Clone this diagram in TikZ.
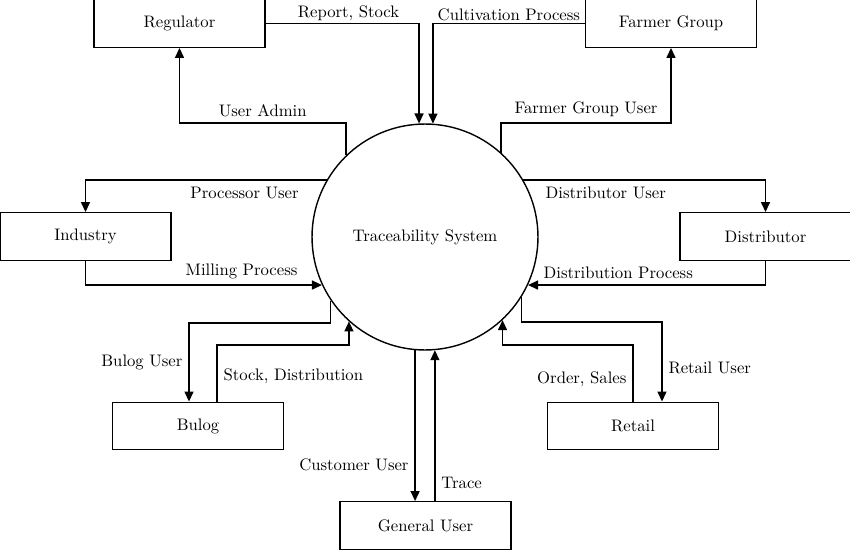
\documentclass[tikz,border=0pt]{standalone}
\usepackage{tikz}
\usetikzlibrary{positioning,arrows.meta,calc}

\begin{document}
\begin{tikzpicture}[x=0.02cm, y=0.02cm, font=\fontsize{9.5}{11}\selectfont,
        box/.style={draw, thick, rectangle, minimum width=3.42cm, minimum height=0.95cm, fill=white},
        flow/.style={thick, -{Triangle[length=2mm, width=1.8mm]}}]
        \useasboundingbox (0,0) rectangle (850,549);
        \node[draw, thick, circle, minimum size=4.52cm] (sys) at (425,312) {Traceability System};
        \foreach \x/\y/\name/\txt in {179.5/525.5/reg/Regulator, 671/525.5/farm/Farmer Group, 85.5/312.5/ind/Industry, 765.5/312.5/dist/Distributor, 198/123/bulog/Bulog, 633/123/retail/Retail, 425.5/23.5/gen/General User}{\node[box] (\name) at (\x,\y) {\txt};}
        \coordinate (bulogin) at ([xshift=-0.18cm]bulog.north);
        \coordinate (bulogout) at ([xshift=0.38cm]bulog.north);
        \coordinate (retailin) at ([xshift=0.58cm]retail.north);
        % top
        \draw[flow] (reg.east) -| node[pos=0.27, above, inner sep=1pt]{Report, Stock} (sys.93.5);
        \draw[flow] (farm.west) -| node[pos=0.25, above, inner sep=1pt]{Cultivation Process} (sys.86);
        \draw[flow] (sys.134) -- (sys.134 |- 0,426) -- node[above]{User Admin} (reg.south |- 0,426) -- (reg.south);
        \draw[flow] (sys.48) -- (sys.48 |- 0,426) -- node[above]{Farmer Group User} (farm.south |- 0,426) -- (farm.south);
        % sides
        \draw[flow] (sys.150) -| node[pos=0.17, below]{Processor User} (ind.north);
        \draw[flow] (ind.south) |- node[pos=0.83, above]{Milling Process} (sys.205);
        \draw[flow] (sys.30) -| node[pos=0.17, below]{Distributor User} (dist.north);
        \draw[flow] (dist.south) |- node[pos=0.81, above]{Distribution Process} (sys.335);
        % bottom
        \draw[flow] (sys.214) |- (bulogin |- 0,226) -- node[left]{Bulog User} (bulogin);
        \draw[flow] (bulogout) -- node[pos=0.45, right]{Stock, Distribution} (bulogout |- 0,204) -| (sys.228);
        \draw[flow] (sys.328) |- (retailin |- 0,227) -- node[pos=0.58, right]{Retail User} (retailin);
        \draw[flow] (retail.north) -- node[pos=0.4, left]{Order, Sales} (retail.north |- 0,204) -| (sys.313);
        \draw[flow] (sys.265.4) -- node[pos=0.76, left]{Customer User} (sys.265.4 |- gen.north);
        \draw[flow] (sys.275 |- gen.north) -- node[pos=0.12, right]{Trace} (sys.275);
\end{tikzpicture}
\end{document}
